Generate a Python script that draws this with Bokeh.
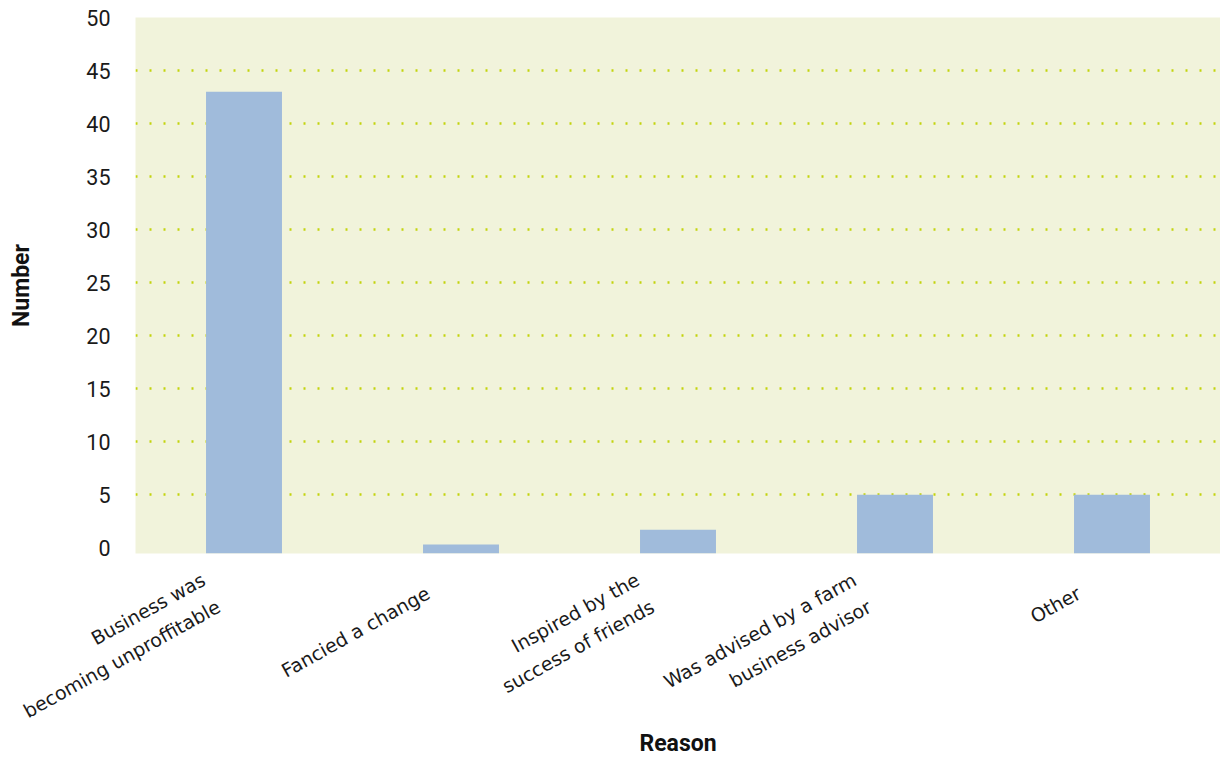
import math
from bokeh.plotting import figure
from bokeh.models import Range1d, FixedTicker
from bokeh.embed import file_html
from bokeh.resources import INLINE

# ---- data ----
reasons = [
    "Business was\nbecoming unproffitable",
    "Fancied a change",
    "Inspired by the\nsuccess of friends",
    "Was advised by a farm\nbusiness advisor",
    "Other",
]
counts = [43, 0.3, 1.7, 5, 5]
y_ticks = [0, 5, 10, 15, 20, 25, 30, 35, 40, 45, 50]
grid_values = [5, 10, 15, 20, 25, 30, 35, 40, 45]
y_floor = -0.55
y_ceiling = 50
x_title = "Reason"
y_title = "Number"

# ---- layout constants ----
W, H = 1220, 760
LEFT, TOP, BOTTOM = 135, 17, 207
n = len(reasons)
SLOT = 1000                      # x units per category slot
unit_px = (W - LEFT) / n         # pixels per category slot
label_shift = round(33 / unit_px * SLOT)   # labels end a little left of bar centre

centres = [i * SLOT + SLOT // 2 for i in range(n)]
label_ticks = [c - label_shift for c in centres]

p = figure(
    width=W, height=H,
    x_range=Range1d(0, n * SLOT),
    y_range=Range1d(y_floor, y_ceiling),
    output_backend="svg", toolbar_location=None,
    min_border_left=LEFT, min_border_right=0,
    min_border_top=TOP, min_border_bottom=BOTTOM,
    background_fill_color="#f1f3db",
    border_fill_color="white",
    outline_line_color=None,
)

p.vbar(x=centres, top=counts, bottom=y_floor, width=0.35 * SLOT,
       fill_color="#a0bbdb", line_color=None)

p.xgrid.grid_line_color = None
p.ygrid.ticker = FixedTicker(ticks=grid_values)
p.ygrid.grid_line_color = "#c3d40c"
p.ygrid.grid_line_width = 2.5
p.ygrid.grid_line_dash = "2 12"

# y axis
p.yaxis.ticker = FixedTicker(ticks=y_ticks)
p.yaxis.axis_line_color = None
p.yaxis.major_tick_line_color = None
p.yaxis.minor_tick_line_color = None
p.yaxis.major_label_text_font = "Roboto"
p.yaxis.major_label_text_font_size = "21.5px"
p.yaxis.major_label_text_color = "#1a1a1a"
p.yaxis.major_label_standoff = 19
p.yaxis.axis_label = y_title
p.yaxis.axis_label_text_font = "Roboto"
p.yaxis.axis_label_text_font_style = "bold"
p.yaxis.axis_label_text_font_size = "23px"
p.yaxis.axis_label_text_color = "#111111"
p.yaxis.axis_label_standoff = 48

# x axis with rotated category names
p.xaxis.ticker = FixedTicker(ticks=label_ticks, minor_ticks=[])
p.xaxis.major_label_overrides = {t: name for t, name in zip(label_ticks, reasons)}
p.xaxis.major_label_orientation = math.radians(29)
p.xaxis.major_label_standoff = 32
p.xaxis.major_label_text_font = "DejaVu Sans"
p.xaxis.major_label_text_font_size = "19px"
p.xaxis.major_label_text_color = "#1a1a1a"
p.xaxis.major_label_text_line_height = 1.4
p.xaxis.axis_line_color = None
p.xaxis.major_tick_line_color = None
p.xaxis.minor_tick_line_color = None
p.xaxis.axis_label = x_title
p.xaxis.axis_label_text_font = "Roboto"
p.xaxis.axis_label_text_font_style = "bold"
p.xaxis.axis_label_text_font_size = "23px"
p.xaxis.axis_label_text_color = "#111111"
p.xaxis.axis_label_standoff = -18

open("out.html", "w").write(file_html(p, INLINE))
